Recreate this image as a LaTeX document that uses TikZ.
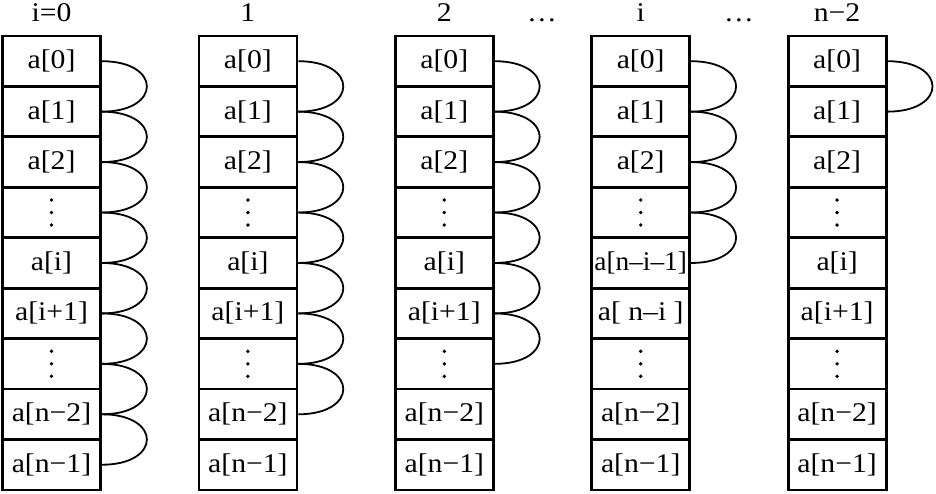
\documentclass[tikz,border=0pt]{standalone}
\usepackage{fontspec}
\setmainfont{Liberation Serif}[FakeStretch=1.1]
\begin{document}
\begin{tikzpicture}[x=1pt,y=-1pt,
  cell/.style={draw,line width=2.8pt,minimum width=98pt,minimum height=50.44pt,inner sep=0pt,font=\fontsize{27}{30}\selectfont},
  hop/.style={line width=1.8pt},
  head/.style={anchor=base,font=\fontsize{27}{30}\selectfont}]
\useasboundingbox (0,0) rectangle (936,493);
\foreach \c/\hops/\lab in {0/8/{i=0},1/7/1,2/6/2,3/4/i,4/1/{n−2}} {
  \pgfmathsetmacro\cx{51.5+196.4*\c}
  \node[head] (h\c) at (\cx,21) {\lab};
  \foreach \r/\t/\u in {0/a[0]/a[0],1/a[1]/a[1],2/a[2]/a[2],3//,4/a[i]/{\scalebox{0.92}[1]{a[n–i–1]}},5/a[i+1]/a[ n–i ],6//,7/a[n−2]/a[n−2],8/a[n−1]/a[n−1]} {
    \node[cell] (c\c-\r) at (\cx,{61.2+50.44*\r}) {\makebox[0pt]{\ifnum\c=3 \u\else\t\fi}};
  }
  \foreach \r in {3,6} {
    \foreach \k in {-1,0,1}
      \fill (c\c-\r.center) ++(0,{\k*12.5}) circle (1.9);
  }
  \foreach \r in {1,...,\hops} {
    \pgfmathtruncatemacro\p{\r-1}
    \draw[hop] (c\c-\p.east) .. controls +(60,0) and +(60,0) .. (c\c-\r.east);
  }
}
\node[head] (d1) at (542,21) {…};
\node[head] (d2) at (739,21) {…};
\end{tikzpicture}
\end{document}
